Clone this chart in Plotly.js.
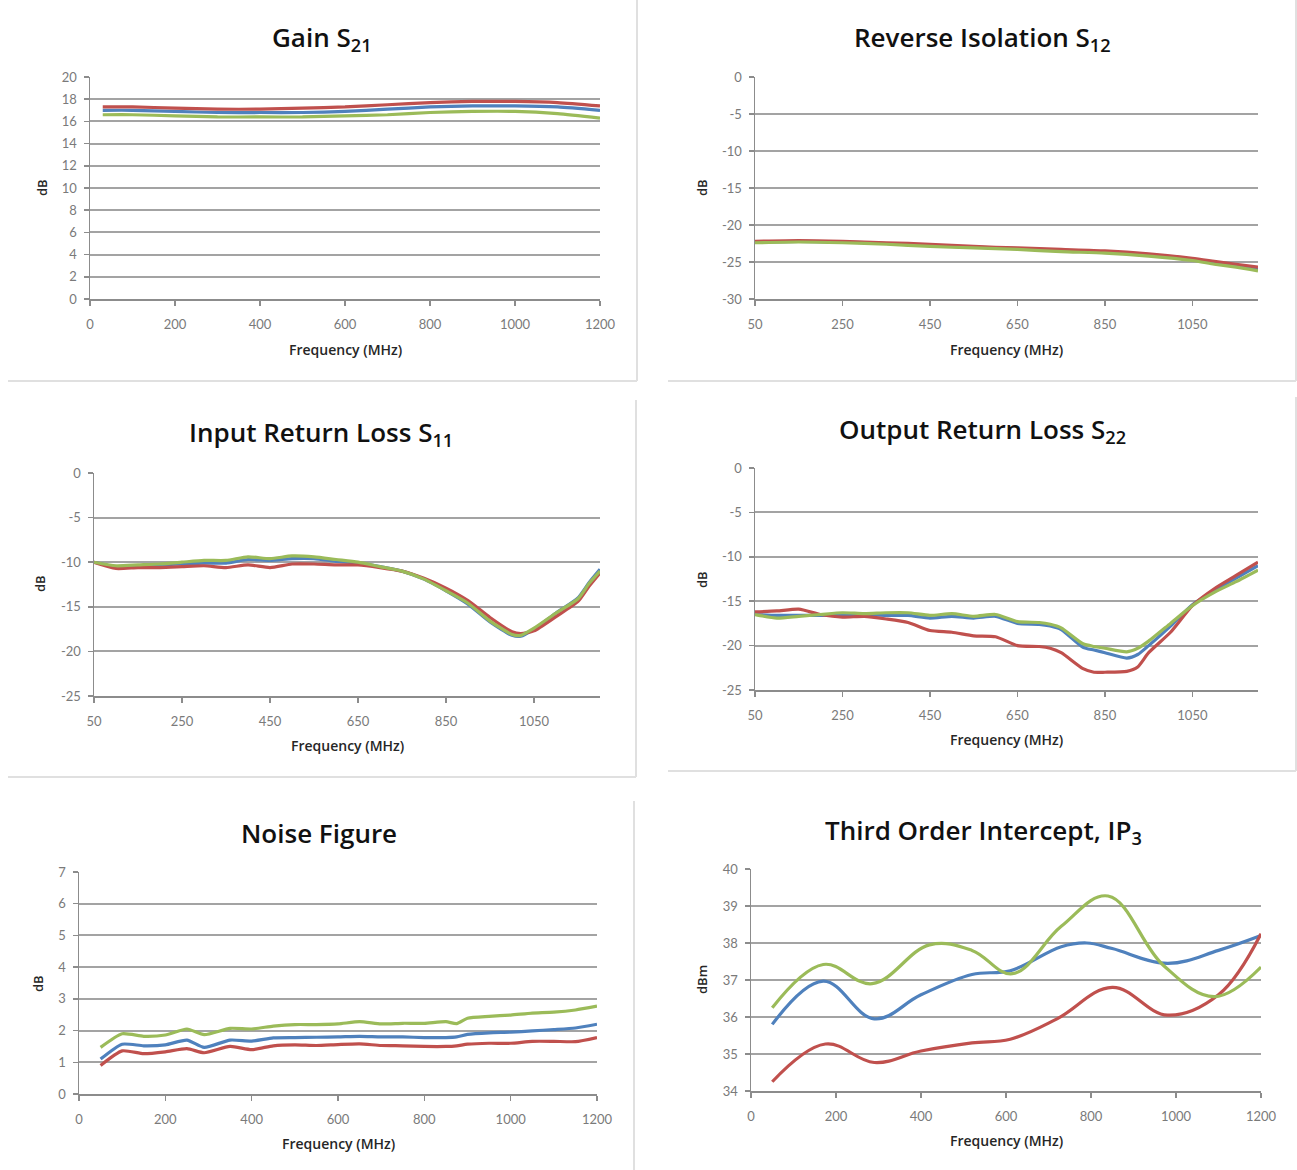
<!DOCTYPE html>
<html>
<head>
<meta charset="utf-8">
<script src="https://cdn.plot.ly/plotly-3.0.1.min.js"></script>
<style>
html,body{margin:0;padding:0;background:#fff;}
#chart{width:1297px;height:1170px;}
</style>
</head>
<body>
<div id="chart"></div>
<script>
// ---------------- DATA ----------------
const seriesColors = ["#4f81bd", "#c0504d", "#9bbb59"]; // blue, red, green

// Gain S21
const gainFreq  = [30,100,200,300,400,500,600,700,800,900,1000,1100,1200];
const gainBlue  = [17.0,17.0,16.9,16.8,16.8,16.8,16.9,17.1,17.3,17.4,17.4,17.3,17.0];
const gainRed   = [17.3,17.3,17.2,17.1,17.1,17.2,17.3,17.5,17.7,17.8,17.8,17.7,17.4];
const gainGreen = [16.6,16.6,16.5,16.4,16.4,16.4,16.5,16.6,16.8,16.9,16.9,16.7,16.3];

// Reverse Isolation S12
const riFreq  = [50,150,250,350,450,550,650,750,850,950,1050,1100,1150,1200];
const riBlue  = [-22.3,-22.2,-22.3,-22.5,-22.8,-23.0,-23.2,-23.4,-23.7,-24.0,-24.7,-25.1,-25.5,-26.0];
const riRed   = [-22.2,-22.1,-22.2,-22.4,-22.6,-22.9,-23.1,-23.3,-23.5,-23.9,-24.5,-24.9,-25.3,-25.7];
const riGreen = [-22.4,-22.3,-22.4,-22.6,-22.9,-23.1,-23.3,-23.6,-23.8,-24.2,-24.8,-25.3,-25.7,-26.2];

// Input Return Loss S11
const irlFreq  = [50,100,150,200,250,300,350,400,450,500,550,600,650,700,750,800,850,900,950,1000,1020,1050,1100,1150,1175,1200];
const irlBlue  = [-10.0,-10.5,-10.4,-10.3,-10.2,-10.1,-10.1,-9.7,-9.8,-9.6,-9.6,-9.9,-10.1,-10.5,-11.0,-11.9,-13.2,-14.7,-16.7,-18.2,-18.3,-17.5,-15.7,-14.0,-12.3,-10.8];
const irlRed   = [-10.0,-10.7,-10.6,-10.6,-10.5,-10.4,-10.6,-10.3,-10.6,-10.2,-10.2,-10.3,-10.3,-10.6,-11.0,-11.8,-12.9,-14.3,-16.2,-17.8,-18.0,-17.7,-16.1,-14.4,-12.7,-11.2];
const irlGreen = [-10.0,-10.4,-10.3,-10.2,-10.0,-9.8,-9.8,-9.4,-9.6,-9.3,-9.4,-9.7,-10.0,-10.5,-11.0,-11.9,-13.2,-14.6,-16.6,-18.1,-18.2,-17.4,-15.7,-14.1,-12.4,-11.0];

// Output Return Loss S22
const orlFreq  = [50,100,150,200,250,300,350,400,450,500,550,600,650,700,725,750,800,825,850,900,925,950,1000,1050,1100,1150,1200];
const orlBlue  = [-16.5,-16.6,-16.6,-16.6,-16.5,-16.5,-16.6,-16.6,-16.9,-16.7,-16.9,-16.7,-17.5,-17.6,-17.8,-18.2,-20.2,-20.5,-20.8,-21.4,-21.0,-20.0,-17.8,-15.4,-13.8,-12.4,-11.0];
const orlRed   = [-16.2,-16.1,-15.9,-16.5,-16.8,-16.7,-17.0,-17.4,-18.3,-18.5,-18.9,-19.0,-20.0,-20.1,-20.3,-20.8,-22.6,-23.0,-23.0,-22.9,-22.4,-20.8,-18.5,-15.5,-13.6,-12.1,-10.6];
const orlGreen = [-16.5,-16.9,-16.7,-16.5,-16.3,-16.4,-16.3,-16.3,-16.6,-16.4,-16.7,-16.5,-17.3,-17.4,-17.6,-18.0,-19.8,-20.1,-20.3,-20.7,-20.3,-19.5,-17.5,-15.5,-14.0,-12.8,-11.5];

// Noise Figure
const nfFreq  = [50,100,150,200,250,290,350,400,450,500,550,600,650,700,750,800,850,875,900,950,1000,1050,1100,1150,1200];
const nfBlue  = [1.10,1.57,1.52,1.55,1.70,1.47,1.70,1.67,1.77,1.78,1.79,1.80,1.82,1.80,1.80,1.78,1.78,1.80,1.88,1.93,1.95,1.99,2.03,2.08,2.20];
const nfRed   = [0.90,1.36,1.27,1.33,1.43,1.30,1.50,1.40,1.52,1.55,1.53,1.56,1.58,1.53,1.52,1.50,1.50,1.52,1.57,1.60,1.60,1.66,1.66,1.65,1.78];
const nfGreen = [1.47,1.90,1.82,1.86,2.05,1.87,2.07,2.05,2.14,2.19,2.19,2.21,2.28,2.21,2.23,2.23,2.28,2.22,2.39,2.45,2.49,2.55,2.58,2.65,2.77];

// Third Order Intercept IP3
const ip3BlueFreq  = [50,170,290,400,520,610,730,790,850,980,1100,1200];
const ip3Blue      = [35.8,36.97,35.95,36.6,37.15,37.25,37.9,38.0,37.85,37.45,37.8,38.2];
const ip3RedFreq   = [50,175,290,400,520,610,720,850,980,1100,1200];
const ip3Red       = [34.25,35.27,34.77,35.08,35.3,35.4,35.95,36.8,36.05,36.6,38.25];
const ip3GreenFreq = [50,170,285,420,520,615,730,840,970,1090,1200];
const ip3Green     = [36.25,37.42,36.9,37.95,37.8,37.17,38.45,39.27,37.4,36.55,37.35];

// Titles / labels
const panelTitles = ["Gain S<sub>21</sub>", "Reverse Isolation S<sub>12</sub>", "Input Return Loss S<sub>11</sub>",
                     "Output Return Loss S<sub>22</sub>", "Noise Figure", "Third Order Intercept, IP<sub>3</sub>"];
const yTitles = ["dB","dB","dB","dB","dB","dBm"];
const xTitle = "Frequency (MHz)";
const tickFreq0 = [0,200,400,600,800,1000,1200];
const tickFreq50 = [50,250,450,650,850,1050];

// ---------------- LAYOUT HELPERS ----------------
const W = 1297, H = 1170;
const px = v => v / W;
const py = v => 1 - v / H;

const panels = [
  {x0:90,  x1:600,  yTop:77,  yBot:299,  xr:[0,1200],  yr:[0,20],   xt:tickFreq0,  yd:2, tX:322, tY:38,  fY:349, dX:42,  dY:188, data:[gainFreq,gainBlue,gainRed,gainGreen]},
  {x0:755, x1:1258, yTop:77,  yBot:299,  xr:[50,1200], yr:[-30,0],  xt:tickFreq50, yd:5, tX:982, tY:38,  fY:349, dX:702, dY:188, data:[riFreq,riBlue,riRed,riGreen]},
  {x0:94,  x1:600,  yTop:473, yBot:696,  xr:[50,1200], yr:[-25,0],  xt:tickFreq50, yd:5, tX:321, tY:433, fY:745, dX:40,  dY:584, data:[irlFreq,irlBlue,irlRed,irlGreen]},
  {x0:755, x1:1258, yTop:468, yBot:690,  xr:[50,1200], yr:[-25,0],  xt:tickFreq50, yd:5, tX:982, tY:430, fY:739, dX:702, dY:580, data:[orlFreq,orlBlue,orlRed,orlGreen]},
  {x0:79,  x1:597,  yTop:872, yBot:1094, xr:[0,1200],  yr:[0,7],    xt:tickFreq0,  yd:1, tX:319, tY:833, fY:1143, dX:38, dY:984, data:[nfFreq,nfBlue,nfRed,nfGreen]},
  {x0:751, x1:1261, yTop:869, yBot:1091, xr:[0,1200],  yr:[34,40],  xt:tickFreq0,  yd:1, tX:983, tY:831, fY:1140, dX:702, dY:980, data:null}
];

const tickFont = {family:"Lato, 'Open Sans', sans-serif", size:13, color:"#7a7a7a"};
const titleFamily = "'Open Sans', Lato, sans-serif";
const gridColor = "#a3a3a3";
const axisColor = "#8c8c8c";

const traces = [];
const layout = {
  width: W, height: H,
  margin: {l:0, r:0, t:0, b:0},
  paper_bgcolor: "#ffffff",
  plot_bgcolor: "#ffffff",
  showlegend: false,
  hovermode: false,
  annotations: [],
  shapes: []
};

panels.forEach((p, i) => {
  const n = i + 1;
  const xa = n === 1 ? "xaxis" : "xaxis" + n;
  const ya = n === 1 ? "yaxis" : "yaxis" + n;
  const xr = n === 1 ? "x" : "x" + n;
  const yr = n === 1 ? "y" : "y" + n;

  layout[xa] = {
    domain: [px(p.x0), px(p.x1)],
    range: p.xr,
    anchor: yr,
    tickmode: "array",
    tickvals: p.xt,
    ticktext: p.xt.map(String),
    showgrid: false,
    zeroline: false,
    showline: true,
    linecolor: axisColor,
    linewidth: 1.5,
    ticks: "outside",
    ticklen: 5,
    tickcolor: axisColor,
    tickwidth: 1.5,
    ticklabelstandoff: 8,
    tickfont: tickFont,
    fixedrange: true
  };
  const yvals = [];
  for (let v = p.yr[0]; v <= p.yr[1] + 1e-9; v += p.yd) yvals.push(v);
  layout[ya] = {
    domain: [py(p.yBot), py(p.yTop)],
    range: p.yr,
    anchor: xr,
    tickmode: "array",
    tickvals: yvals,
    ticktext: yvals.map(String),
    showgrid: true,
    gridcolor: gridColor,
    gridwidth: 2,
    zeroline: false,
    showline: true,
    linecolor: axisColor,
    linewidth: 1.5,
    ticks: "outside",
    ticklen: 5,
    tickcolor: axisColor,
    tickwidth: 1.5,
    ticklabelstandoff: 4,
    tickfont: tickFont,
    fixedrange: true
  };

  if (p.data) {
    const [f, b, r, g] = p.data;
    [b, r, g].forEach((ys, k) => {
      traces.push({
        type: "scatter", mode: "lines", x: f, y: ys,
        xaxis: xr, yaxis: yr,
        line: {color: seriesColors[k], width: 3.2, shape: "spline", smoothing: 0.6}
      });
    });
  } else {
    [[ip3BlueFreq, ip3Blue], [ip3RedFreq, ip3Red], [ip3GreenFreq, ip3Green]].forEach((s, k) => {
      traces.push({
        type: "scatter", mode: "lines", x: s[0], y: s[1],
        xaxis: xr, yaxis: yr,
        line: {color: seriesColors[k], width: 3.2, shape: "spline", smoothing: 1.1}
      });
    });
  }

  // Chart title
  layout.annotations.push({
    text: panelTitles[i], xref: "paper", yref: "paper",
    x: px(p.tX), y: py(p.tY), xanchor: "center", yanchor: "middle",
    showarrow: false,
    font: {family: titleFamily, size: 26, color: "#111111", weight: 600}
  });
  // X axis title
  layout.annotations.push({
    text: xTitle, xref: "paper", yref: "paper",
    x: px((p.x0 + p.x1) / 2), y: py(p.fY), xanchor: "center", yanchor: "middle",
    showarrow: false,
    font: {family: titleFamily, size: 14, color: "#262626", weight: 600}
  });
  // Y axis title
  layout.annotations.push({
    text: yTitles[i], xref: "paper", yref: "paper",
    x: px(p.dX), y: py(p.dY), xanchor: "center", yanchor: "middle",
    textangle: -90, showarrow: false,
    font: {family: titleFamily, size: 13, color: "#262626", weight: 600}
  });
});

// Panel frame lines (light gray)
const frameLines = [
  [8,381,637,381],[637,0,637,381],
  [668,381,1296,381],[1296,0,1296,381],
  [8,777,636,777],[636,400,636,777],
  [668,771,1296,771],[1296,397,1296,771],
  [634,801,634,1170]
];
frameLines.forEach(l => {
  layout.shapes.push({
    type: "line", xref: "paper", yref: "paper",
    x0: px(l[0]), y0: py(l[1]), x1: px(l[2]), y1: py(l[3]),
    line: {color: "#e0e0e0", width: 2}
  });
});

Plotly.newPlot("chart", traces, layout, {staticPlot: true, displayModeBar: false});
</script>
</body>
</html>
